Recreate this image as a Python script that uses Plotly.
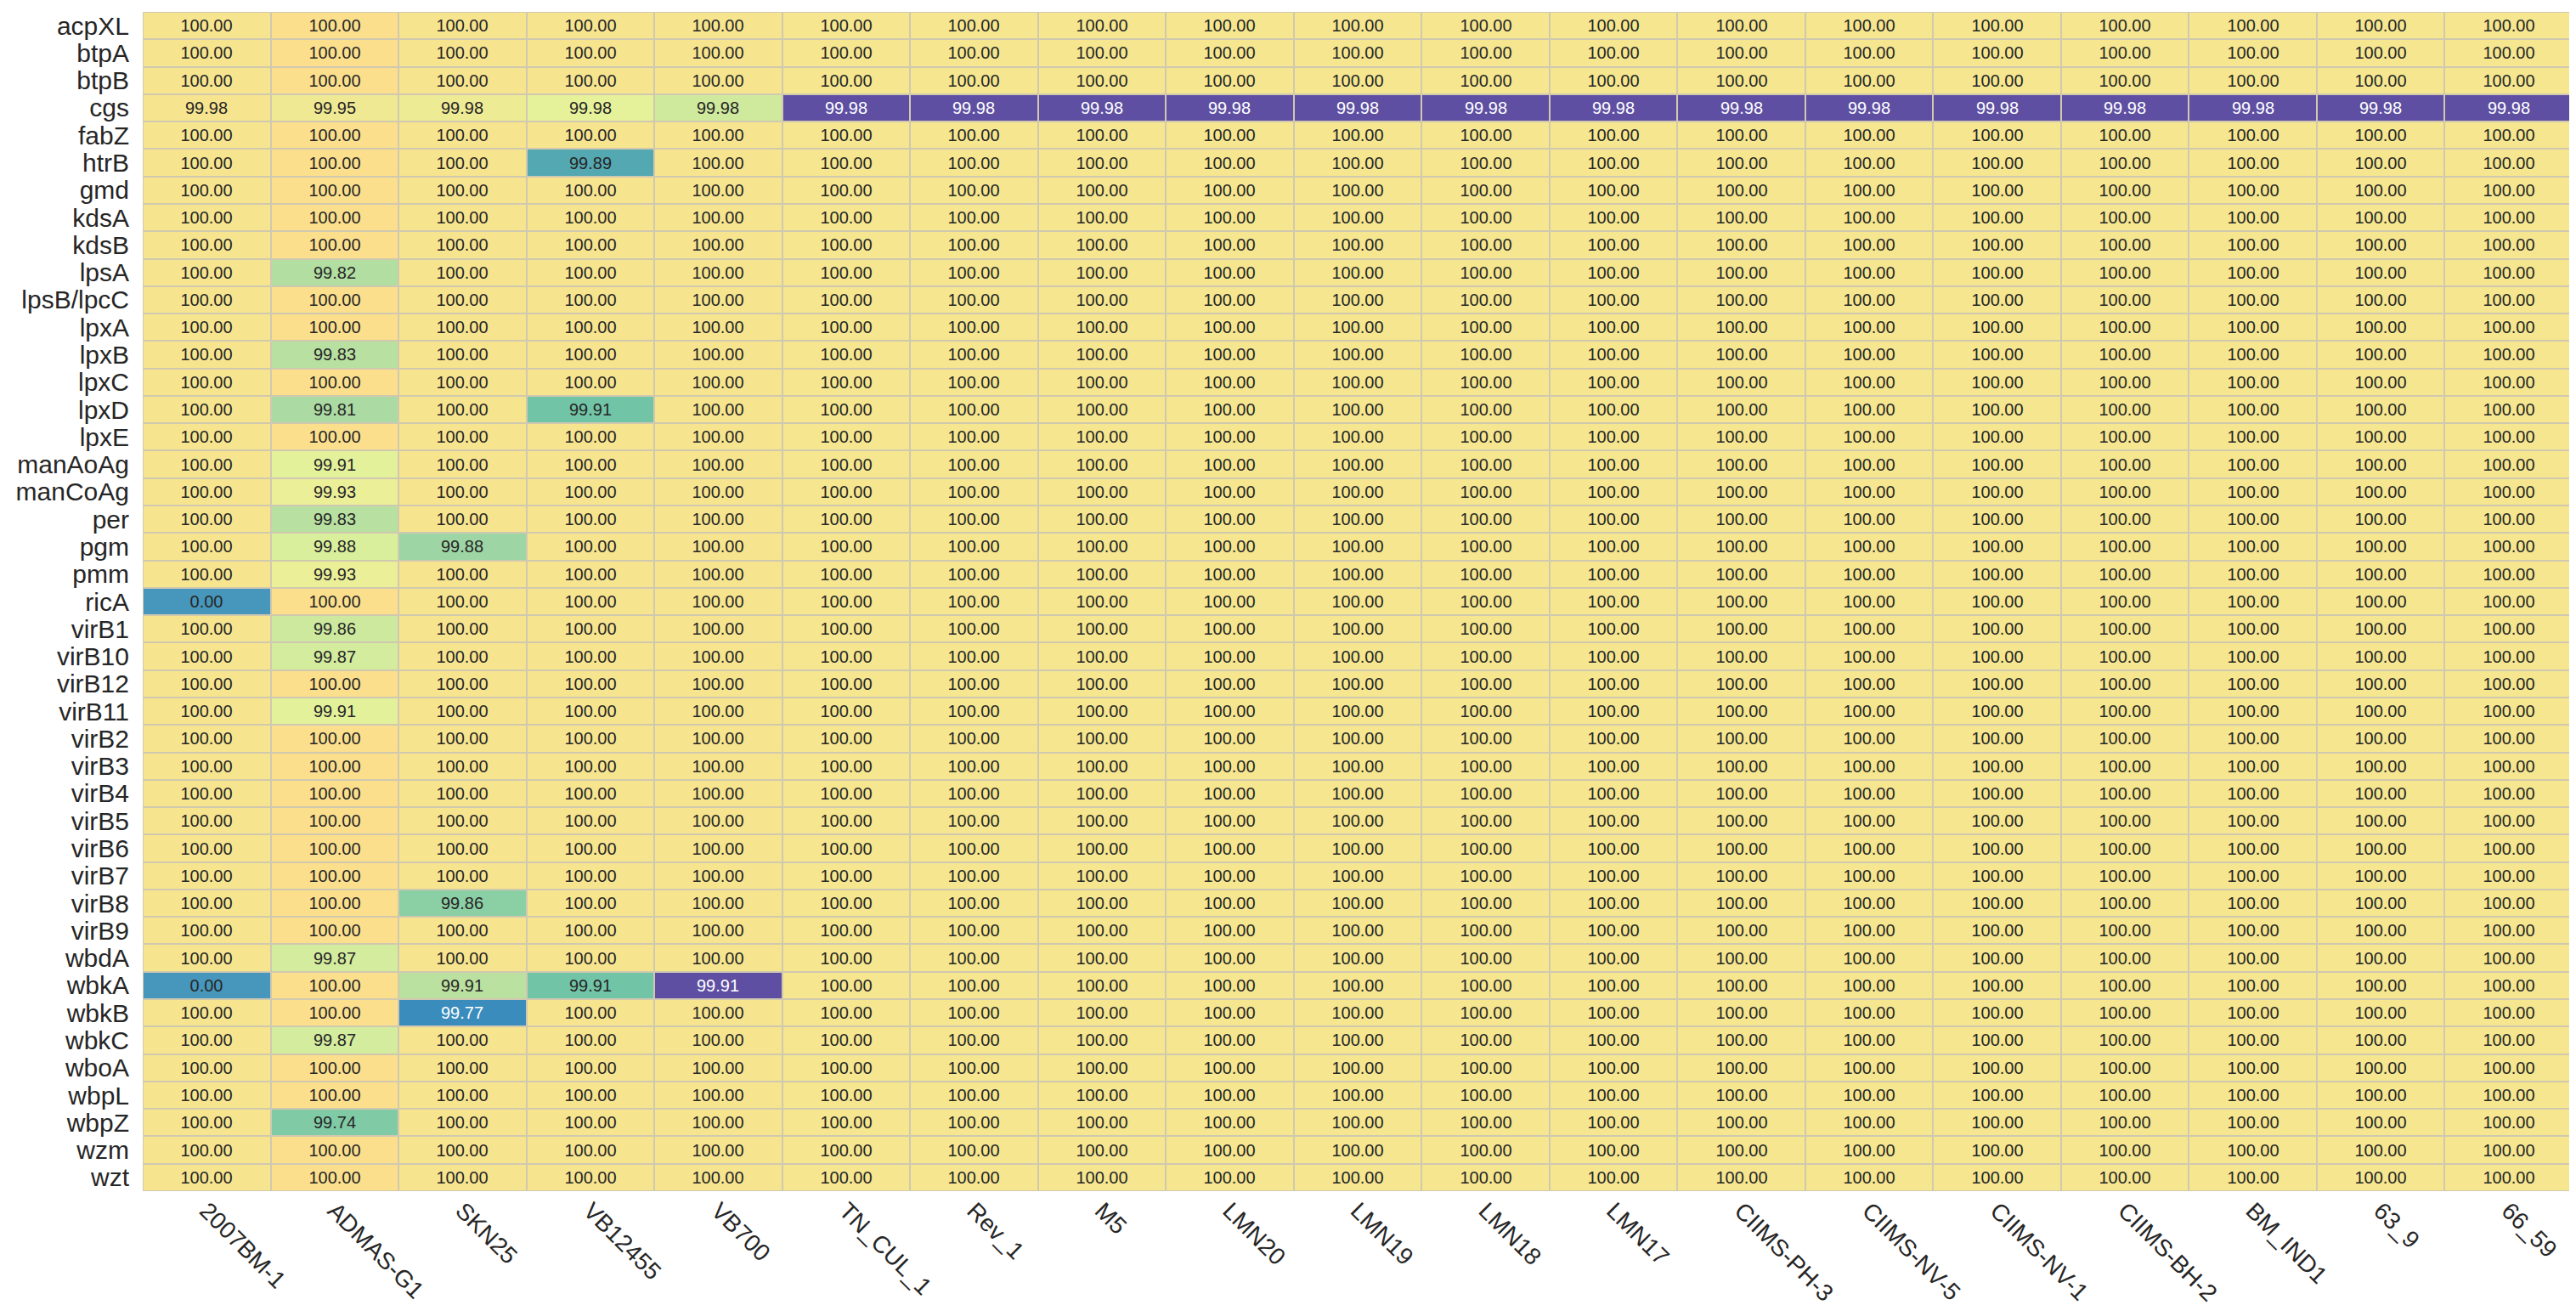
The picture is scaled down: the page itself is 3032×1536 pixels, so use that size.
import numpy as np
import plotly.graph_objects as go

# % identity of virulence genes per strain, coloured by per-strain z-score

strains = ["2007BM-1", "ADMAS-G1", "SKN25", "VB12455", "VB700", "TN_CUL_1", "Rev_1", "M5",
           "LMN20", "LMN19", "LMN18", "LMN17", "CIIMS-PH-3", "CIIMS-NV-5", "CIIMS-NV-1",
           "CIIMS-BH-2", "BM_IND1", "63_9", "66_59"]

genes = ["acpXL", "btpA", "btpB", "cgs", "fabZ", "htrB", "gmd", "kdsA", "kdsB", "lpsA",
         "lpsB/lpcC", "lpxA", "lpxB", "lpxC", "lpxD", "lpxE", "manAoAg", "manCoAg", "per",
         "pgm", "pmm", "ricA", "virB1", "virB10", "virB12", "virB11", "virB2", "virB3",
         "virB4", "virB5", "virB6", "virB7", "virB8", "virB9", "wbdA", "wbkA", "wbkB",
         "wbkC", "wboA", "wbpL", "wbpZ", "wzm", "wzt"]

identity = [
    [100, 100, 100, 100, 100, 100, 100, 100, 100, 100, 100, 100, 100, 100, 100, 100, 100, 100, 100],  # acpXL
    [100, 100, 100, 100, 100, 100, 100, 100, 100, 100, 100, 100, 100, 100, 100, 100, 100, 100, 100],  # btpA
    [100, 100, 100, 100, 100, 100, 100, 100, 100, 100, 100, 100, 100, 100, 100, 100, 100, 100, 100],  # btpB
    [99.98, 99.95, 99.98, 99.98, 99.98, 99.98, 99.98, 99.98, 99.98, 99.98, 99.98, 99.98, 99.98,
     99.98, 99.98, 99.98, 99.98, 99.98, 99.98],  # cgs
    [100, 100, 100, 100, 100, 100, 100, 100, 100, 100, 100, 100, 100, 100, 100, 100, 100, 100, 100],  # fabZ
    [100, 100, 100, 99.89, 100, 100, 100, 100, 100, 100, 100, 100, 100, 100, 100, 100, 100, 100, 100],  # htrB
    [100, 100, 100, 100, 100, 100, 100, 100, 100, 100, 100, 100, 100, 100, 100, 100, 100, 100, 100],  # gmd
    [100, 100, 100, 100, 100, 100, 100, 100, 100, 100, 100, 100, 100, 100, 100, 100, 100, 100, 100],  # kdsA
    [100, 100, 100, 100, 100, 100, 100, 100, 100, 100, 100, 100, 100, 100, 100, 100, 100, 100, 100],  # kdsB
    [100, 99.82, 100, 100, 100, 100, 100, 100, 100, 100, 100, 100, 100, 100, 100, 100, 100, 100, 100],  # lpsA
    [100, 100, 100, 100, 100, 100, 100, 100, 100, 100, 100, 100, 100, 100, 100, 100, 100, 100, 100],  # lpsB/lpcC
    [100, 100, 100, 100, 100, 100, 100, 100, 100, 100, 100, 100, 100, 100, 100, 100, 100, 100, 100],  # lpxA
    [100, 99.83, 100, 100, 100, 100, 100, 100, 100, 100, 100, 100, 100, 100, 100, 100, 100, 100, 100],  # lpxB
    [100, 100, 100, 100, 100, 100, 100, 100, 100, 100, 100, 100, 100, 100, 100, 100, 100, 100, 100],  # lpxC
    [100, 99.81, 100, 99.91, 100, 100, 100, 100, 100, 100, 100, 100, 100, 100, 100, 100, 100, 100, 100],  # lpxD
    [100, 100, 100, 100, 100, 100, 100, 100, 100, 100, 100, 100, 100, 100, 100, 100, 100, 100, 100],  # lpxE
    [100, 99.91, 100, 100, 100, 100, 100, 100, 100, 100, 100, 100, 100, 100, 100, 100, 100, 100, 100],  # manAoAg
    [100, 99.93, 100, 100, 100, 100, 100, 100, 100, 100, 100, 100, 100, 100, 100, 100, 100, 100, 100],  # manCoAg
    [100, 99.83, 100, 100, 100, 100, 100, 100, 100, 100, 100, 100, 100, 100, 100, 100, 100, 100, 100],  # per
    [100, 99.88, 99.88, 100, 100, 100, 100, 100, 100, 100, 100, 100, 100, 100, 100, 100, 100, 100, 100],  # pgm
    [100, 99.93, 100, 100, 100, 100, 100, 100, 100, 100, 100, 100, 100, 100, 100, 100, 100, 100, 100],  # pmm
    [0.00, 100, 100, 100, 100, 100, 100, 100, 100, 100, 100, 100, 100, 100, 100, 100, 100, 100, 100],  # ricA
    [100, 99.86, 100, 100, 100, 100, 100, 100, 100, 100, 100, 100, 100, 100, 100, 100, 100, 100, 100],  # virB1
    [100, 99.87, 100, 100, 100, 100, 100, 100, 100, 100, 100, 100, 100, 100, 100, 100, 100, 100, 100],  # virB10
    [100, 100, 100, 100, 100, 100, 100, 100, 100, 100, 100, 100, 100, 100, 100, 100, 100, 100, 100],  # virB12
    [100, 99.91, 100, 100, 100, 100, 100, 100, 100, 100, 100, 100, 100, 100, 100, 100, 100, 100, 100],  # virB11
    [100, 100, 100, 100, 100, 100, 100, 100, 100, 100, 100, 100, 100, 100, 100, 100, 100, 100, 100],  # virB2
    [100, 100, 100, 100, 100, 100, 100, 100, 100, 100, 100, 100, 100, 100, 100, 100, 100, 100, 100],  # virB3
    [100, 100, 100, 100, 100, 100, 100, 100, 100, 100, 100, 100, 100, 100, 100, 100, 100, 100, 100],  # virB4
    [100, 100, 100, 100, 100, 100, 100, 100, 100, 100, 100, 100, 100, 100, 100, 100, 100, 100, 100],  # virB5
    [100, 100, 100, 100, 100, 100, 100, 100, 100, 100, 100, 100, 100, 100, 100, 100, 100, 100, 100],  # virB6
    [100, 100, 100, 100, 100, 100, 100, 100, 100, 100, 100, 100, 100, 100, 100, 100, 100, 100, 100],  # virB7
    [100, 100, 99.86, 100, 100, 100, 100, 100, 100, 100, 100, 100, 100, 100, 100, 100, 100, 100, 100],  # virB8
    [100, 100, 100, 100, 100, 100, 100, 100, 100, 100, 100, 100, 100, 100, 100, 100, 100, 100, 100],  # virB9
    [100, 99.87, 100, 100, 100, 100, 100, 100, 100, 100, 100, 100, 100, 100, 100, 100, 100, 100, 100],  # wbdA
    [0.00, 100, 99.91, 99.91, 99.91, 100, 100, 100, 100, 100, 100, 100, 100, 100, 100, 100, 100, 100, 100],  # wbkA
    [100, 100, 99.77, 100, 100, 100, 100, 100, 100, 100, 100, 100, 100, 100, 100, 100, 100, 100, 100],  # wbkB
    [100, 99.87, 100, 100, 100, 100, 100, 100, 100, 100, 100, 100, 100, 100, 100, 100, 100, 100, 100],  # wbkC
    [100, 100, 100, 100, 100, 100, 100, 100, 100, 100, 100, 100, 100, 100, 100, 100, 100, 100, 100],  # wboA
    [100, 100, 100, 100, 100, 100, 100, 100, 100, 100, 100, 100, 100, 100, 100, 100, 100, 100, 100],  # wbpL
    [100, 99.74, 100, 100, 100, 100, 100, 100, 100, 100, 100, 100, 100, 100, 100, 100, 100, 100, 100],  # wbpZ
    [100, 100, 100, 100, 100, 100, 100, 100, 100, 100, 100, 100, 100, 100, 100, 100, 100, 100, 100],  # wzm
    [100, 100, 100, 100, 100, 100, 100, 100, 100, 100, 100, 100, 100, 100, 100, 100, 100, 100, 100],  # wzt
]

vals = np.array(identity, dtype=float)
# colour = z-score within each strain column
zs = (vals - vals.mean(axis=0)) / vals.std(axis=0)

ZMIN, ZMAX = -6.5, 0.8
stops = [(-6.5, "#5e4fa2"), (-6.2, "#5e4fa2"), (-4.8, "#3a8cbc"), (-4.5, "#4897bb"),
         (-4.1, "#55aab0"), (-3.3, "#72c6a6"), (-2.8, "#8bcfa4"), (-2.36, "#9dd6a4"),
         (-1.75, "#b8e0a0"), (-1.04, "#daef9c"), (-0.5, "#e6f29a"), (-0.1, "#efea94"),
         (0.2, "#f6e58e"), (0.65, "#fcdf8c"), (0.8, "#fddd8b")]
colorscale = [[(z - ZMIN) / (ZMAX - ZMIN), c] for z, c in stops]

labels = [[f"{v:.2f}" for v in row] for row in identity]
dark = zs < -4.7
text_in_cell = [[("" if dark[i, j] else labels[i][j]) for j in range(len(strains))]
                for i in range(len(genes))]

font = "Liberation Sans, Arial, sans-serif"
ink = "#262626"

fig = go.Figure(go.Heatmap(
    x=strains, y=genes, z=zs,
    colorscale=colorscale, zmin=ZMIN, zmax=ZMAX, showscale=False,
    xgap=2, ygap=2,
    text=text_in_cell, texttemplate="%{text}",
    textfont=dict(family=font, size=20, color=ink),
    customdata=labels, hovertemplate="%{y} / %{x}: %{customdata}<extra></extra>",
))

# white labels on the darkest cells
for i, g in enumerate(genes):
    for j, s in enumerate(strains):
        if dark[i, j]:
            fig.add_annotation(x=s, y=g, text=labels[i][j], showarrow=False,
                               font=dict(family=font, size=20, color="white"))

fig.update_layout(
    width=3032, height=1536,
    margin=dict(l=160, r=12, t=6, b=142),
    paper_bgcolor="white", plot_bgcolor="#d0c9b0",
    font=dict(family=font, color=ink),
)
fig.update_xaxes(tickmode="array", tickvals=strains, ticktext=strains,
                 tickangle=45, tickfont=dict(size=28, color=ink), showgrid=False,
                 zeroline=False, automargin=False, ticks="")
fig.update_yaxes(tickmode="array", tickvals=genes, ticktext=genes,
                 autorange="reversed", tickfont=dict(size=30, color=ink), showgrid=False,
                 zeroline=False, automargin=False, ticks="", ticklabelstandoff=15)

fig.write_html("out.html")
